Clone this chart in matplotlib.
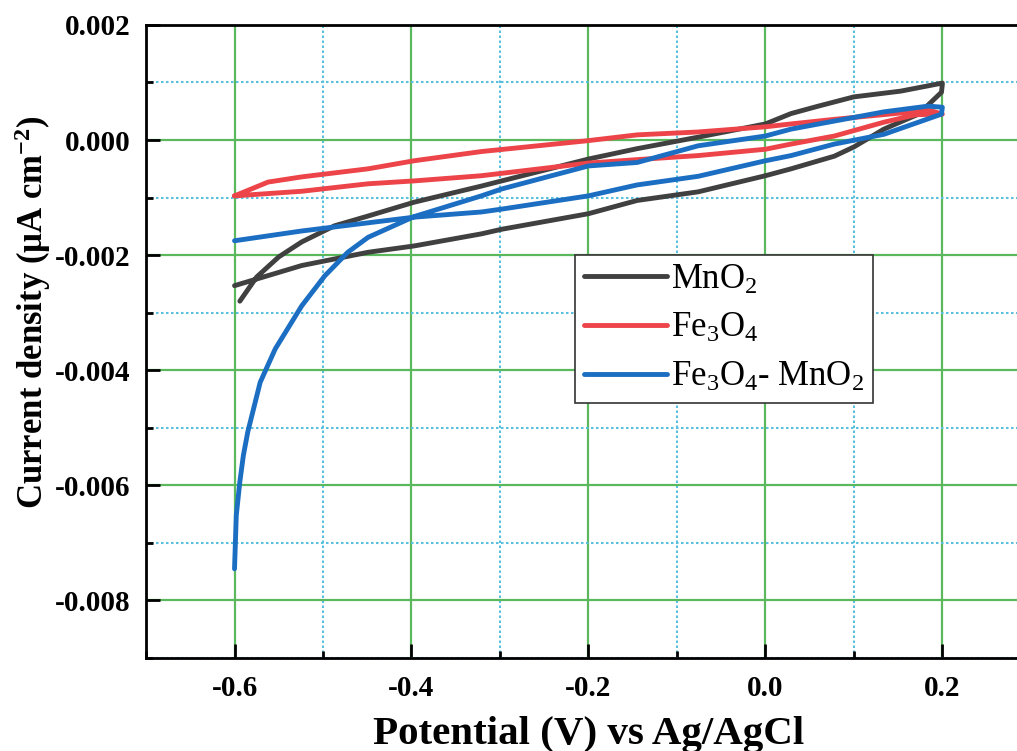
import matplotlib
matplotlib.use("Agg")
import matplotlib.pyplot as plt
from matplotlib.ticker import MultipleLocator, FormatStrFormatter

plt.rcParams["font.family"] = ["Liberation Serif", "DejaVu Serif"]
plt.rcParams["mathtext.fontset"] = "custom"
plt.rcParams["mathtext.rm"] = "Liberation Serif"
plt.rcParams["mathtext.it"] = "Liberation Serif:italic"
plt.rcParams["mathtext.bf"] = "Liberation Serif:bold"
plt.rcParams["mathtext.default"] = "regular"
plt.rcParams["axes.unicode_minus"] = False

# Cyclic voltammograms, current density in units of 1e-3
# anodic sweep -0.6 -> 0.2 V, then cathodic sweep back to -0.6 V
mno2_fwd_v = [-0.594, -0.575, -0.55, -0.524, -0.487, -0.449, -0.397, -0.321, -0.298,
              -0.2, -0.145, -0.076, 0.0, 0.029, 0.06, 0.1, 0.153, 0.2]
mno2_fwd_j = [-2.80, -2.38, -2.03, -1.77, -1.49, -1.32, -1.08, -0.80, -0.71,
              -0.33, -0.15, 0.05, 0.28, 0.46, 0.59, 0.75, 0.85, 0.99]
mno2_rev_v = [0.2, 0.199, 0.173, 0.134, 0.1, 0.078, 0.029, 0.0, -0.076, -0.145,
              -0.2, -0.298, -0.321, -0.397, -0.449, -0.524, -0.6]
mno2_rev_j = [0.97, 0.83, 0.45, 0.19, -0.12, -0.28, -0.50, -0.62, -0.90, -1.05,
              -1.28, -1.55, -1.63, -1.84, -1.95, -2.18, -2.53]

fe3o4_fwd_v = [-0.6, -0.562, -0.524, -0.449, -0.397, -0.321, -0.2, -0.145, -0.076,
               0.0, 0.029, 0.078, 0.153, 0.185, 0.2]
fe3o4_fwd_j = [-0.97, -0.73, -0.64, -0.50, -0.36, -0.20, -0.01, 0.09, 0.14,
               0.23, 0.28, 0.36, 0.47, 0.52, 0.45]
fe3o4_rev_v = [0.2, 0.17, 0.134, 0.078, 0.029, 0.0, -0.076, -0.145, -0.2, -0.321,
               -0.397, -0.449, -0.524, -0.6]
fe3o4_rev_j = [0.45, 0.44, 0.31, 0.07, -0.07, -0.16, -0.27, -0.34, -0.40, -0.62,
               -0.71, -0.76, -0.89, -0.97]

comp_fwd_v = [-0.6, -0.598, -0.594, -0.59, -0.585, -0.571, -0.554, -0.524, -0.498,
              -0.472, -0.449, -0.397, -0.321, -0.298, -0.2, -0.145, -0.076, 0.0,
              0.029, 0.078, 0.134, 0.184, 0.2]
comp_fwd_j = [-7.45, -6.52, -5.94, -5.48, -5.07, -4.21, -3.63, -2.88, -2.36,
              -1.95, -1.69, -1.33, -0.97, -0.85, -0.45, -0.39, -0.10, 0.07,
              0.19, 0.33, 0.49, 0.59, 0.57]
comp_rev_v = [0.2, 0.199, 0.173, 0.134, 0.078, 0.029, 0.0, -0.076, -0.145, -0.2,
              -0.298, -0.321, -0.397, -0.487, -0.524, -0.6]
comp_rev_j = [0.57, 0.45, 0.31, 0.10, -0.07, -0.27, -0.36, -0.63, -0.78, -0.97,
              -1.20, -1.25, -1.34, -1.51, -1.58, -1.75]

labels = ["MnO$_2$", "Fe$_3$O$_4$", "Fe$_3$O$_4$- MnO$_2$"]
colors = ["#404040", "#ec4449", "#1b6ec2"]

fig = plt.figure(figsize=(10.17, 7.51), dpi=100)
ax = fig.add_axes([0.1436, 0.1238, 0.870, 0.843])

series = [
    (mno2_fwd_v + mno2_rev_v, mno2_fwd_j + mno2_rev_j),
    (fe3o4_fwd_v + fe3o4_rev_v, fe3o4_fwd_j + fe3o4_rev_j),
    (comp_fwd_v + comp_rev_v, comp_fwd_j + comp_rev_j),
]
for (v, j), lab, col in zip(series, labels, colors):
    ax.plot(v, [x * 1e-3 for x in j], color=col, lw=3.5, label=lab,
            solid_capstyle="round", solid_joinstyle="round", zorder=3)

ax.set_xlim(-0.7, 0.3)
ax.set_ylim(-0.009, 0.002)
ax.xaxis.set_major_locator(MultipleLocator(0.2))
ax.xaxis.set_minor_locator(MultipleLocator(0.1))
ax.yaxis.set_major_locator(MultipleLocator(0.002))
ax.yaxis.set_minor_locator(MultipleLocator(0.001))
ax.xaxis.set_major_formatter(FormatStrFormatter("%.1f"))
ax.yaxis.set_major_formatter(FormatStrFormatter("%.3f"))

ax.grid(which="major", color="#5cb85c", lw=1.6, ls="-", zorder=0)
ax.grid(which="minor", color="#5bc0de", lw=1.5, ls=(0, (1.2, 1.2)), zorder=0)
ax.set_axisbelow(True)

ax.tick_params(which="major", direction="in", length=10, width=2, labelsize=21)
ax.tick_params(axis="x", which="major", pad=12)
ax.tick_params(axis="y", which="major", pad=11)
ax.tick_params(which="minor", direction="in", length=5, width=2)
for lbl in ax.get_xticklabels() + ax.get_yticklabels():
    lbl.set_fontweight("bold")
for sp in ax.spines.values():
    sp.set_linewidth(2)

ax.set_xlabel("Potential (V) vs Ag/AgCl", fontsize=29.5, fontweight="bold", va="top")
ax.xaxis.set_label_coords(0.5, -0.0916)
ax.set_ylabel("Current density (μA cm$^{\\mathbf{-2}}$)", fontsize=25,
              fontweight="bold")
ax.yaxis.set_label_coords(-0.105, 0.547)

leg = ax.legend(loc="upper left", bbox_to_anchor=(0.485, 0.637),
                borderaxespad=0, fontsize=25, handlelength=2.4,
                handletextpad=0.12, labelspacing=0.45, fancybox=False,
                framealpha=1, edgecolor="#333333", borderpad=0.25)
leg.get_frame().set_linewidth(1.2)

fig.savefig("out.png", dpi=100)
